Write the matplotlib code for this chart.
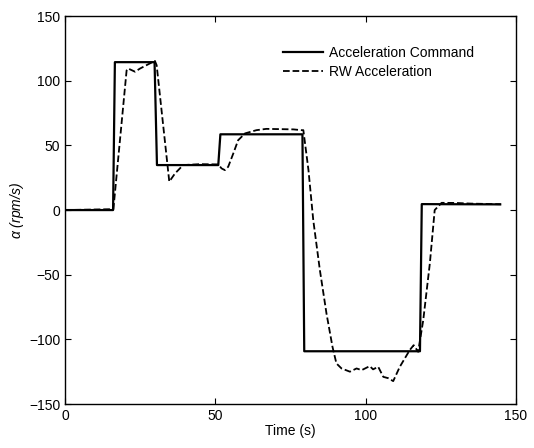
import matplotlib
matplotlib.use('Agg')
import matplotlib.pyplot as plt

# acceleration command (step profile)
t_cmd = [0, 16.0, 16.6, 29.8, 30.6, 51.0, 51.7, 79.0, 79.6, 118.1, 118.7, 144.8]
a_cmd = [0, 0, 114.4, 114.4, 34.8, 34.8, 58.6, 58.6, -109.2, -109.2, 4.6, 4.4]

# measured reaction wheel acceleration
t_rw = [0, 16.1, 20.5, 21.0, 23.3, 25.0, 29.9, 30.5, 34.7, 36.6, 39.3, 45.0, 51.0,
        52.1, 53.2, 54.3, 56.0, 57.6, 59.9, 63.7, 67.0, 76.0, 78.7, 79.3, 81.0,
        82.6, 84.8, 87.0, 89.0, 90.3, 92.0, 94.8, 97.0, 98.7, 101.4, 102.5, 104.2,
        105.9, 107.5, 109.2, 111.4, 114.7, 116.0, 117.5, 119.2, 121.4, 123.0,
        125.3, 130.0, 135.0, 145.0]
a_rw = [0, 0.7, 108.0, 109.5, 107.0, 109.5, 115.4, 112.0, 22.0, 28.3, 34.8, 35.5, 35.3,
        32.2, 30.9, 33.5, 43.8, 54.0, 59.3, 61.8, 62.8, 62.4, 61.8, 61.8, 31.0,
        -7.8, -46.4, -80.0, -105.8, -118.6, -122.5, -125.0, -122.5, -123.8, -120.7, -123.2, -121.2,
        -129.0, -130.0, -132.3, -121.2, -108.3, -104.5, -109.6, -85.0, -41.0, 0.0,
        5.6, 5.5, 5.0, 4.5]

plt.rcParams['font.family'] = ['Liberation Sans', 'DejaVu Sans']
plt.rcParams['mathtext.fontset'] = 'custom'
plt.rcParams['mathtext.it'] = 'Liberation Sans:italic'

fig = plt.figure(figsize=(5.34, 4.48), dpi=100)
ax = fig.add_axes([0.1217, 0.0982, 0.8443, 0.8658])

ax.plot(t_cmd, a_cmd, 'k-', lw=1.6, label='Acceleration Command')
ax.plot(t_rw, a_rw, 'k--', lw=1.3, label='RW Acceleration')

ax.set_xlim(0, 150)
ax.set_ylim(-150, 150)
ax.set_xticks([0, 50, 100, 150])
ax.set_yticks([-150, -100, -50, 0, 50, 100, 150])
ax.tick_params(direction='in', top=True, right=True, labelsize=10, length=4, width=0.8)
for s in ax.spines.values():
    s.set_linewidth(1.0)

ax.set_xlabel('Time (s)', fontsize=10, labelpad=1)
ax.set_ylabel(r'$\alpha$ (rpm/s)', fontsize=10, style='italic', labelpad=2)

ax.legend(loc='upper left', bbox_to_anchor=(0.483, 0.924), frameon=False, fontsize=10,
          handlelength=2.88, labelspacing=0.38, handletextpad=0.45,
          borderpad=0, borderaxespad=0)

fig.savefig('out.png', dpi=100)
